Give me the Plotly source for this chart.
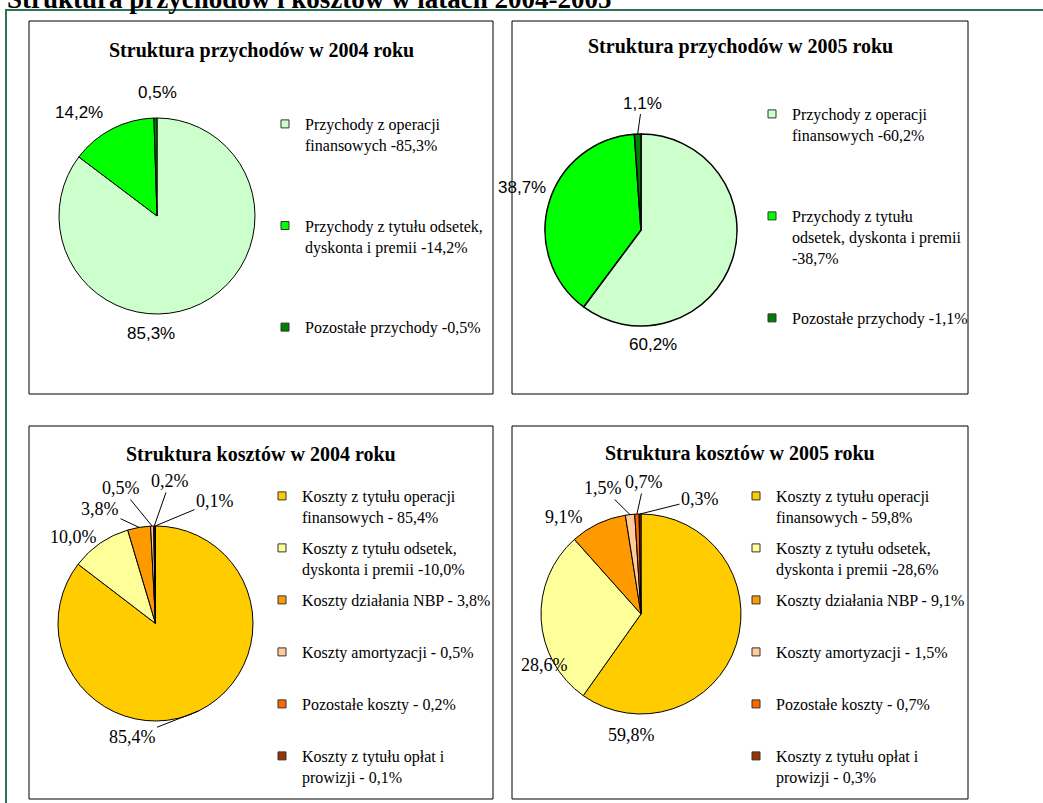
import math
import plotly.graph_objects as go

W, H = 1043, 803

def X(px):
    return px / W

def Y(py):
    return 1 - py / H

# ---------------- data ----------------
main_title = "Struktura przychodów i kosztów w latach 2004-2005"

titles = [
    "Struktura przychodów w 2004 roku",
    "Struktura przychodów w 2005 roku",
    "Struktura kosztów w 2004 roku",
    "Struktura kosztów w 2005 roku",
]

income_categories = [
    "Przychody z operacji finansowych",
    "Przychody z tytułu odsetek, dyskonta i premii",
    "Pozostałe przychody",
]
income_2004 = [85.3, 14.2, 0.5]
income_2005 = [60.2, 38.7, 1.1]
income_colors = ["#CCFFCC", "#00FF00", "#008000"]

cost_categories = [
    "Koszty z tytułu operacji finansowych",
    "Koszty z tytułu odsetek, dyskonta i premii",
    "Koszty działania NBP",
    "Koszty amortyzacji",
    "Pozostałe koszty",
    "Koszty z tytułu opłat i prowizji",
]
cost_2004 = [85.4, 10.0, 3.8, 0.5, 0.2, 0.1]
cost_2005 = [59.8, 28.6, 9.1, 1.5, 0.7, 0.3]
cost_colors = ["#FFCC00", "#FFFF99", "#FF9900", "#FFCC99", "#FF6600", "#993300"]

legend_2004_income = [
    "Przychody z operacji<br>finansowych -85,3%",
    "Przychody z tytułu odsetek,<br>dyskonta i premii -14,2%",
    "Pozostałe przychody -0,5%",
]
legend_2005_income = [
    "Przychody z operacji<br>finansowych -60,2%",
    "Przychody z tytułu<br>odsetek, dyskonta i premii<br>-38,7%",
    "Pozostałe przychody -1,1%",
]
legend_2004_cost = [
    "Koszty z tytułu operacji<br>finansowych - 85,4%",
    "Koszty z tytułu odsetek,<br>dyskonta i premii -10,0%",
    "Koszty działania NBP - 3,8%",
    "Koszty amortyzacji - 0,5%",
    "Pozostałe koszty - 0,2%",
    "Koszty z tytułu opłat i<br>prowizji - 0,1%",
]
legend_2005_cost = [
    "Koszty z tytułu operacji<br>finansowych - 59,8%",
    "Koszty z tytułu odsetek,<br>dyskonta i premii -28,6%",
    "Koszty działania NBP - 9,1%",
    "Koszty amortyzacji - 1,5%",
    "Pozostałe koszty - 0,7%",
    "Koszty z tytułu opłat i<br>prowizji - 0,3%",
]

# ---------------- layout geometry (pixels) ----------------
panels = [(29, 21, 493, 394), (512, 21, 968, 394), (29, 426, 493, 799), (512, 426, 968, 799)]
pie_boxes = [(59, 118, 255, 314), (545, 134, 737, 326), (58, 526, 253, 721), (541, 514, 741, 714)]
title_y = [50, 46, 454, 453]
legend_pos = [(305, 125), (792, 115), (302, 497), (776, 497)]
legend_target_lines = [2, 3, 2, 2]
legend_gaps = [57, 36.6, 7.4, 7.4]
# label placement (pixel position of each slice label, and whether a leader line is drawn)
label_pos = [
    [(151, 333, False), (79, 112, False), (157, 92, False)],
    [(653, 345, False), (522, 187, False), (642, 103, True)],
    [(132, 737, True), (73, 537, False), (100, 509, True), (121, 488, True), (170, 481, True), (215, 501, True)],
    [(631, 735, False), (544, 665, False), (564, 517, False), (603, 488, True), (644, 482, True), (700, 499, True)],
]

SERIF = "Liberation Serif"
SANS = "Liberation Sans"
LEG_FS = 16

pies = [
    (income_categories, income_2004, income_colors, legend_2004_income, SANS, 1),
    (income_categories, income_2005, income_colors, legend_2005_income, SANS, 1.5),
    (cost_categories, cost_2004, cost_colors, legend_2004_cost, SERIF, 1),
    (cost_categories, cost_2005, cost_colors, legend_2005_cost, SERIF, 1),
]

fig = go.Figure()
legend_keys = ["legend", "legend2", "legend3", "legend4"]
annotations = []

def fmt(v):
    return f"{v:.1f}".replace(".", ",") + "%"

for i, (cats, vals, cols, leg, fam, lw) in enumerate(pies):
    x0, y0, x1, y1 = pie_boxes[i]
    fig.add_trace(go.Pie(
        labels=cats,
        values=vals,
        marker=dict(colors=cols, line=dict(color="black", width=lw)),
        sort=False,
        direction="clockwise",
        rotation=0,
        textinfo="none",
        domain=dict(x=[X(x0), X(x1)], y=[Y(y1), Y(y0)]),
        showlegend=False,
        hoverinfo="label+value",
    ))
    # slice labels
    cx, cy = (x0 + x1) / 2, (y0 + y1) / 2
    r = min(x1 - x0, y1 - y0) / 2
    total = sum(vals)
    cum = 0.0
    fs = 17 if fam == SANS else 18
    for j, v in enumerate(vals):
        ang = 2 * math.pi * (cum + v / 2) / total
        cum += v
        hx = cx + r * math.sin(ang)
        hy = cy - r * math.cos(ang)
        lx, ly, leader = label_pos[i][j]
        if leader:
            annotations.append(dict(
                text=fmt(v), xref="paper", yref="paper", x=X(hx), y=Y(hy),
                ax=lx - hx, ay=ly - hy, axref="pixel", ayref="pixel",
                showarrow=True, arrowhead=0, arrowwidth=1, arrowcolor="black", standoff=0,
                font=dict(family=fam, size=fs, color="black"),
            ))
        else:
            annotations.append(dict(
                text=fmt(v), xref="paper", yref="paper", x=X(lx), y=Y(ly),
                xanchor="center", yanchor="middle", showarrow=False,
                font=dict(family=fam, size=fs, color="black"),
            ))
    # legend entries
    target = legend_target_lines[i]
    for j, (txt, col) in enumerate(zip(leg, cols)):
        n = txt.count("<br>") + 1
        if j < len(leg) - 1 and n < target:
            txt = txt + "<br>\u00a0" * (target - n)
        fig.add_trace(go.Scatter(
            x=[None], y=[None], mode="markers",
            marker=dict(symbol="square", size=8, color=col, line=dict(color="#333333", width=1)),
            name=txt, legend=legend_keys[i], legendgroup=f"g{i}_{j}",
            showlegend=True, hoverinfo="skip",
        ))

shapes = [dict(type="rect", xref="paper", yref="paper",
               x0=X(6), y0=Y(814), x1=X(1052), y1=Y(10),
               line=dict(color="#2E7356", width=2), fillcolor="rgba(0,0,0,0)")]
for (a, b, c, d) in panels:
    shapes.append(dict(type="rect", xref="paper", yref="paper",
                       x0=X(a), y0=Y(d), x1=X(c), y1=Y(b),
                       line=dict(color="black", width=1), fillcolor="rgba(0,0,0,0)", layer="below"))

annotations.append(dict(text="<b>" + main_title + "</b>", xref="paper", yref="paper",
                        x=X(5), y=Y(16), xanchor="left", yanchor="bottom", showarrow=False,
                        font=dict(family=SERIF, size=27, color="black")))
for i, t in enumerate(titles):
    a, b, c, d = panels[i]
    annotations.append(dict(text="<b>" + t + "</b>", xref="paper", yref="paper",
                            x=X((a + c) / 2), y=Y(title_y[i]), xanchor="center", yanchor="middle",
                            showarrow=False, font=dict(family=SERIF, size=20, color="black")))

layout_legends = {}
for i, key in enumerate(legend_keys):
    lx, ly = legend_pos[i]
    layout_legends[key] = dict(
        x=X(lx - 40), y=Y(ly - 18), xanchor="left", yanchor="top",
        xref="paper", yref="paper",
        bgcolor="rgba(0,0,0,0)", borderwidth=0,
        font=dict(family=SERIF, size=LEG_FS, color="black"),
        traceorder="grouped", tracegroupgap=legend_gaps[i], valign="top",
        itemclick=False, itemdoubleclick=False,
    )

fig.update_layout(
    width=W, height=H,
    margin=dict(l=0, r=0, t=0, b=0),
    paper_bgcolor="white", plot_bgcolor="white",
    separators=", ",
    xaxis=dict(visible=False), yaxis=dict(visible=False),
    shapes=shapes, annotations=annotations,
    **layout_legends,
)

fig.write_html("out.html", config={"displayModeBar": False},
               post_script="document.body.style.margin='0px';")
